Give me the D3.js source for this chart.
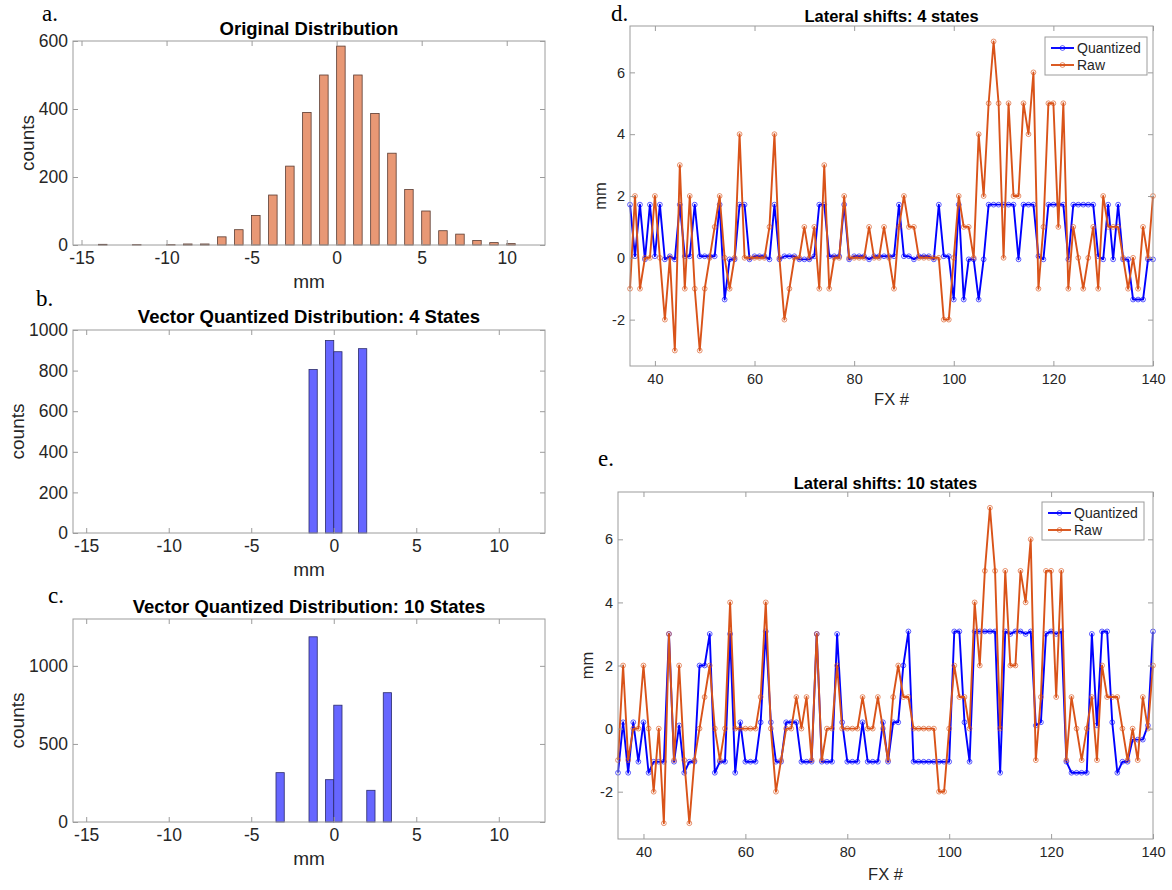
<!DOCTYPE html>
<html>
<head>
<meta charset="utf-8">
<script src="https://cdn.jsdelivr.net/npm/d3@7"></script>
<style>
  body { margin: 0; background: #fff; }
  svg { display: block; font-family: "Liberation Sans", Arial, sans-serif; }
</style>
</head>
<body>
<svg id="chart" width="1172" height="890"></svg>
<script>
// ---- histogram a : original distribution (bin start, count), bin width 0.5
const origBinStarts = [-14, -12, -10, -9, -8, -7, -6, -5, -4, -3, -2, -1, 0, 1, 2, 3, 4, 5, 6, 7, 8, 9, 10];
const origCounts    = [2, 1, 1, 3, 3, 24, 45, 87, 147, 232, 390, 500, 585, 500, 387, 270, 163, 100, 42, 32, 13, 7, 4];

// ---- histogram b : 4 states
const q4BinStarts = [-1.5, -0.5, 0, 1.5];
const q4Counts    = [805, 948, 893, 908];

// ---- histogram c : 10 states
const q10BinStarts = [-3.5, -1.5, -0.5, 0, 2, 3];
const q10Counts    = [316, 1186, 271, 748, 203, 828];

// ---- lateral shifts, fractions 35..140
const fxNumbers = d3.range(35, 141);
const rawShift = [
  -1, 2, -1, 0, 0, 2, 0, -2, 0, -3,
  3, -1, 2, -1, -3, -1, 0, 1, 2, 0,
  -1, 0, 4, 0, 0, 0, 0, 0, 1, 4,
  0, -2, -1, 0, 0, 1, 0, 1, -1, 3,
  -1, 0, 0, 2, 0, 0, 0, 0, 1, 0,
  0, 1, 0, -1, 1, 2, 1, 1, 0, 0,
  0, 0, 0, -2, -2, 0, 2, 1, 1, 0,
  4, 2, 5, 7, 5, 0, 5, 2, 2, 5,
  4, 6, -1, 1, 5, 5, 1, 5, -1, 1,
  0, -1, 0, 1, -1, 2, 1, 1, 1, 0,
  -1, 0, -1, 1, 0, 2
];
const quant4Shift = [
  1.72, 0.05, 1.72, -0.05, 1.72, 0.05, 1.72, -0.05, 0.05, -0.05,
  1.72, 0.05, 0.05, 1.72, 0.05, 0.05, 0.05, 0.05, 1.72, -1.35,
  -0.05, -0.05, 1.72, 1.72, -0.05, 0.05, 0.05, 0.05, -0.05, 1.72,
  -0.05, 0.05, 0.05, 0.05, -0.05, -0.05, -0.05, 0.05, 1.72, 1.72,
  0.05, 0.05, 0.05, 1.72, -0.05, 0.05, 0.05, 0.05, -0.05, 0.05,
  0.05, 0.05, 0.05, 0.05, 1.72, 0.05, 0.05, -0.05, 0.05, 0.05,
  0.05, -0.05, 1.72, 0.05, 0.05, -1.35, 1.72, -1.35, -0.05, -0.05,
  -1.35, -0.05, 1.72, 1.72, 1.72, 1.72, 1.72, 1.72, -0.05, 1.72,
  1.72, 1.72, 0.05, -0.05, 1.72, 1.72, 1.72, 1.72, -0.05, 1.72,
  1.72, 1.72, 1.72, 1.72, 0.05, -0.05, 1.72, -0.05, 1.72, -0.05,
  -0.05, -1.35, -1.35, -1.35, -0.05, -0.05
];
const quant10Shift = [
  -1.4, 0.2, -1.4, 0.2, -1.05, 0.2, -1.4, -1.05, -1.05, -1.05,
  3.0, -1.05, 0.1, -1.4, -1.05, -1.05, 2.0, 2.0, 3.0, -1.4,
  -1.05, -1.05, 3.0, -1.4, 0.2, -1.05, -1.05, -1.05, 0.2, 3.08,
  0.2, -1.05, -1.05, 0.2, 0.2, 0.2, -1.05, -1.05, -1.05, 3.0,
  -1.05, -1.05, -1.05, 3.0, 0.2, -1.05, -1.05, -1.05, 0.2, -1.05,
  -1.05, -1.05, 0.2, -1.05, 0.2, 0.2, 2.0, 3.08, -1.05, -1.05,
  -1.05, -1.05, -1.05, -1.05, -1.05, -1.05, 3.08, 3.08, 0.2, -1.05,
  3.08, 3.08, 3.08, 3.08, 3.08, -1.4, 3.08, 3.0, 3.08, 3.08,
  3.0, 3.08, 0.1, 0.2, 3.0, 3.08, 3.0, 3.08, -1.05, -1.4,
  -1.4, -1.4, -1.4, 3.0, 0.1, 3.08, 3.08, 0.2, -1.4, -1.05,
  -1.05, -0.35, -0.35, -0.35, 0.1, 3.08
];

const histTicksX = [-15, -10, -5, 0, 5, 10];
const shiftTicksX = [40, 60, 80, 100, 120, 140];
const shiftTicksY = [-2, 0, 2, 4, 6];

const ORANGE = "#D95319";
const BLUE = "#0000FF";
const BOX = "#9c9c9c";
const TXT = "#262626";

const svg = d3.select("#chart");

// axes with inward ticks on all four sides, like the matlab box
function drawFrame(g, x, y, p) {
  const fmt = d => String(d);
  const tl = 5;
  const bottom = g.append("g").attr("transform", `translate(0,${p.bottom})`)
    .call(d3.axisBottom(x).tickValues(p.xTicks).tickSizeInner(-tl).tickSizeOuter(0).tickPadding(p.padX).tickFormat(fmt));
  g.append("g").attr("transform", `translate(0,${p.top})`)
    .call(d3.axisTop(x).tickValues(p.xTicks).tickSizeInner(-tl).tickSizeOuter(0).tickFormat(""));
  const left = g.append("g").attr("transform", `translate(${p.left},0)`)
    .call(d3.axisLeft(y).tickValues(p.yTicks).tickSizeInner(-tl).tickSizeOuter(0).tickPadding(p.padY).tickFormat(fmt));
  g.append("g").attr("transform", `translate(${p.right},0)`)
    .call(d3.axisRight(y).tickValues(p.yTicks).tickSizeInner(-tl).tickSizeOuter(0).tickFormat(""));

  g.selectAll(".domain").remove();
  g.selectAll(".tick line").attr("stroke", BOX).attr("stroke-width", 1);
  bottom.selectAll("text").attr("font-size", p.tickFont).attr("fill", TXT).attr("font-family", null);
  left.selectAll("text").attr("font-size", p.tickFont).attr("fill", TXT).attr("font-family", null);

  g.append("rect")
    .attr("x", p.left).attr("y", p.top)
    .attr("width", p.right - p.left).attr("height", p.bottom - p.top)
    .attr("fill", "none").attr("stroke", BOX).attr("stroke-width", 1);

  g.append("text")
    .attr("x", (p.left + p.right) / 2).attr("y", p.titleY)
    .attr("text-anchor", "middle").attr("font-weight", "bold")
    .attr("font-size", p.titleFont).attr("fill", "#000")
    .text(p.title);
  g.append("text")
    .attr("x", (p.left + p.right) / 2).attr("y", p.xLabelY)
    .attr("text-anchor", "middle").attr("font-size", p.labelFont).attr("fill", TXT)
    .text(p.xLabel);
  g.append("text")
    .attr("transform", `translate(${p.yLabelX},${(p.top + p.bottom) / 2}) rotate(-90)`)
    .attr("text-anchor", "middle").attr("font-size", p.labelFont).attr("fill", TXT)
    .text(p.yLabel);
  g.append("text")
    .attr("x", p.letterX).attr("y", p.letterY)
    .attr("font-family", "'Liberation Serif', 'Times New Roman', serif")
    .attr("font-size", 23).attr("fill", "#000")
    .text(p.letter);
}

function drawHist(p) {
  const x = d3.scaleLinear().domain(p.xDomain).range([p.left, p.right]);
  const y = d3.scaleLinear().domain(p.yDomain).range([p.bottom, p.top]);
  const g = svg.append("g");
  const bins = p.starts.map((s, i) => ({ x0: s, x1: s + 0.5, n: p.counts[i] }));

  g.selectAll("rect.bar")
    .data(bins)
    .enter()
    .append("rect")
    .attr("class", "bar")
    .attr("x", d => x(d.x0))
    .attr("width", d => x(d.x1) - x(d.x0))
    .attr("y", d => y(d.n))
    .attr("height", d => y(0) - y(d.n))
    .attr("fill", p.fill)
    .attr("stroke", p.edge)
    .attr("stroke-width", 0.8);

  drawFrame(g, x, y, Object.assign({
    xTicks: histTicksX, padX: 7, padY: 5,
    tickFont: 17.5, labelFont: 19, titleFont: 18.5,
    xLabel: "mm", yLabel: "counts"
  }, p));
}

function drawShifts(p) {
  const x = d3.scaleLinear().domain([35, 140]).range([p.left, p.right]);
  const y = d3.scaleLinear().domain([-3.5, 7.5]).range([p.bottom, p.top]);
  const g = svg.append("g");

  const series = [
    { name: "Quantized", color: BLUE, values: p.quant },
    { name: "Raw", color: ORANGE, values: rawShift }
  ];
  const line = d3.line().x(d => x(d.fx)).y(d => y(d.v));

  series.forEach(s => {
    const pts = fxNumbers.map((fx, i) => ({ fx, v: s.values[i] }));
    g.append("path")
      .datum(pts)
      .attr("d", line)
      .attr("fill", "none")
      .attr("stroke", s.color)
      .attr("stroke-width", 1.9)
      .attr("stroke-linejoin", "round");
    g.selectAll(null)
      .data(pts)
      .enter()
      .append("circle")
      .attr("cx", d => x(d.fx))
      .attr("cy", d => y(d.v))
      .attr("r", 2.4)
      .attr("fill", "none")
      .attr("stroke", s.color)
      .attr("stroke-opacity", 0.7)
      .attr("stroke-width", 0.9);
  });

  drawFrame(g, x, y, Object.assign({
    xTicks: shiftTicksX, yTicks: shiftTicksY, padX: 8, padY: 5,
    tickFont: 14.5, labelFont: 16.5, titleFont: 16.5,
    xLabel: "FX #", yLabel: "mm"
  }, p));

  // legend
  const lg = g.append("g");
  lg.append("rect")
    .attr("x", p.legX).attr("y", p.legY)
    .attr("width", 102).attr("height", 38)
    .attr("fill", "#fff").attr("stroke", BOX).attr("stroke-width", 1);
  series.forEach((s, i) => {
    const cy = p.legY + 11 + i * 17;
    lg.append("line")
      .attr("x1", p.legX + 6).attr("x2", p.legX + 29)
      .attr("y1", cy).attr("y2", cy)
      .attr("stroke", s.color).attr("stroke-width", 1.9);
    lg.append("circle")
      .attr("cx", p.legX + 17.5).attr("cy", cy).attr("r", 2.4)
      .attr("fill", "none").attr("stroke", s.color).attr("stroke-opacity", 0.7).attr("stroke-width", 0.9);
    lg.append("text")
      .attr("x", p.legX + 32).attr("y", cy + 5)
      .attr("font-size", 14).attr("fill", TXT)
      .text(s.name);
  });
}

drawHist({
  starts: origBinStarts, counts: origCounts,
  xDomain: [-15.5, 12.25], yDomain: [0, 600], yTicks: [0, 200, 400, 600],
  left: 73, right: 545, top: 41, bottom: 245,
  fill: "#E89875", edge: "#5a3a30",
  title: "Original Distribution", titleY: 35,
  xLabelY: 288, yLabelX: 34, letter: "a.", letterX: 42, letterY: 21
});

drawHist({
  starts: q4BinStarts, counts: q4Counts,
  xDomain: [-15.8, 12.8], yDomain: [0, 1000], yTicks: [0, 200, 400, 600, 800, 1000],
  left: 73, right: 545, top: 330, bottom: 533,
  fill: "#6666FF", edge: "#2a2a6a",
  title: "Vector Quantized Distribution: 4 States", titleY: 323,
  xLabelY: 576, yLabelX: 24, letter: "b.", letterX: 36, letterY: 306
});

drawHist({
  starts: q10BinStarts, counts: q10Counts,
  xDomain: [-15.8, 12.8], yDomain: [0, 1300], yTicks: [0, 500, 1000],
  left: 73, right: 545, top: 619, bottom: 822,
  fill: "#6666FF", edge: "#2a2a6a",
  title: "Vector Quantized Distribution: 10 States", titleY: 613,
  xLabelY: 865, yLabelX: 24, letter: "c.", letterX: 48, letterY: 603
});

drawShifts({
  quant: quant4Shift,
  left: 630, right: 1153, top: 26, bottom: 366,
  title: "Lateral shifts: 4 states", titleY: 22,
  xLabelY: 405, yLabelX: 606, letter: "d.", letterX: 611, letterY: 21,
  legX: 1045, legY: 37
});

drawShifts({
  quant: quant10Shift,
  left: 618, right: 1153, top: 492, bottom: 839,
  title: "Lateral shifts: 10 states", titleY: 489,
  xLabelY: 880, yLabelX: 593, letter: "e.", letterX: 598, letterY: 466,
  legX: 1042, legY: 502
});
</script>
</body>
</html>
